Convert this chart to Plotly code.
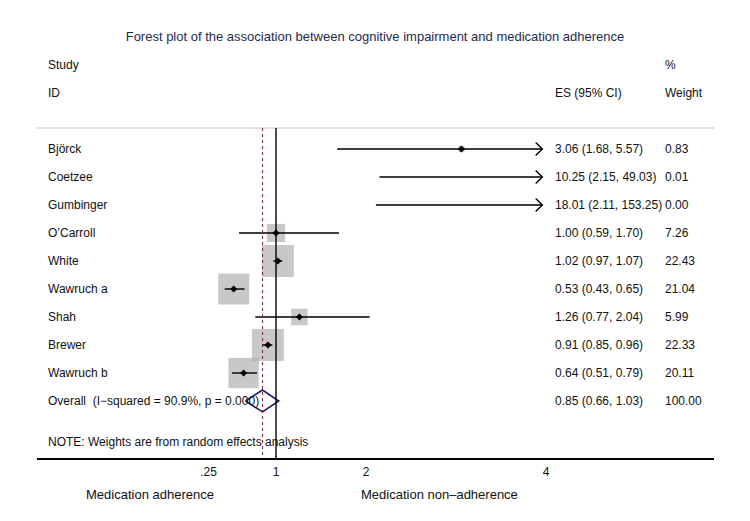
import plotly.graph_objects as go
import math

studies = ["Björck", "Coetzee", "Gumbinger", "O’Carroll", "White", "Wawruch a", "Shah", "Brewer", "Wawruch b"]
es = [3.06, 10.25, 18.01, 1.00, 1.02, 0.53, 1.26, 0.91, 0.64]
lo = [1.68, 2.15, 2.11, 0.59, 0.97, 0.43, 0.77, 0.85, 0.51]
hi = [5.57, 49.03, 153.25, 1.70, 1.07, 0.65, 2.04, 0.96, 0.79]
weight = [0.83, 0.01, 0.00, 7.26, 22.43, 21.04, 5.99, 22.33, 20.11]
overall_es, overall_lo, overall_hi = 0.85, 0.66, 1.03
overall_label = "Overall  (I−squared = 90.9%, p = 0.000)"
tick_vals = [0.25, 1, 2, 4]
tick_text = [".25", "1", "2", "4"]

# page body has an 8px margin, so the figure is drawn 8px smaller
W, H = 742, 513
FONT = "Liberation Sans, Arial, sans-serif"
CLIP = 3.96
XMIN, XMAX = -1.656, 5.867
YTOP, YBOT = -5.036, 11.036
n = len(studies)
rows = list(range(n))
y_over = n

fig = go.Figure()

# weight boxes
maxw = max(weight)
sizes = [32 * math.sqrt(w / maxw) for w in weight]
fig.add_trace(go.Scatter(x=es, y=rows, mode="markers",
                         marker=dict(symbol="square", size=sizes, color="#b0b0b0", line=dict(width=0)),
                         hoverinfo="skip", showlegend=False))

# CI lines and arrows
for i in rows:
    right = min(hi[i], CLIP)
    fig.add_trace(go.Scatter(x=[lo[i], right], y=[i, i], mode="lines",
                             line=dict(color="black", width=1.4), hoverinfo="skip", showlegend=False))
    if hi[i] > CLIP:
        fig.add_trace(go.Scatter(x=[CLIP - 0.075, CLIP, CLIP - 0.075], y=[i - 0.23, i, i + 0.23],
                                 mode="lines", line=dict(color="black", width=1.4),
                                 hoverinfo="skip", showlegend=False))

# point estimates
fig.add_trace(go.Scatter(x=es, y=rows, mode="markers",
                         marker=dict(symbol="diamond", size=5.5, color="black"),
                         hoverinfo="skip", showlegend=False))

# overall diamond
dh = 0.39
fig.add_trace(go.Scatter(x=[overall_lo, overall_es, overall_hi, overall_es, overall_lo],
                         y=[y_over, y_over - dh, y_over, y_over + dh, y_over],
                         mode="lines", line=dict(color="#1c1c6e", width=1.6),
                         hoverinfo="skip", showlegend=False))

shapes = [
    dict(type="line", xref="paper", x0=0, x1=1, yref="y", y0=-0.75, y1=-0.75,
         line=dict(color="#d6d6d6", width=1.6)),
    dict(type="line", xref="x", x0=1, x1=1, yref="y", y0=-0.75, y1=YBOT,
         line=dict(color="black", width=1.4)),
    dict(type="line", xref="x", x0=overall_es, x1=overall_es, yref="y", y0=-0.75, y1=YBOT,
         line=dict(color="#8b2540", width=1.1, dash="3px,3px")),
]

ann = []
def txt(x, y, s, xref="x", anchor="left"):
    ann.append(dict(x=x, y=y, xref=xref, yref="y", text=s, showarrow=False,
                    xanchor=anchor, yanchor="middle", font=dict(family=FONT, size=12, color="#111111")))

XL = -1.556
XES = 4.078
XW = 5.30
txt(XL, -3, "Study")
txt(XL, -2, "ID")
txt(XW, -3, "%")
txt(XES, -2, "ES (95% CI)")
txt(XW, -2, "Weight")
for i in rows:
    txt(XL, i, studies[i])
    txt(XES, i, f"{es[i]:.2f} ({lo[i]:.2f}, {hi[i]:.2f})")
    txt(XW, i, f"{weight[i]:.2f}")
txt(XL, y_over, overall_label)
txt(XES, y_over, f"{overall_es:.2f} ({overall_lo:.2f}, {overall_hi:.2f})")
txt(XW, y_over, "100.00")
txt(XL, 10.45, "NOTE: Weights are from random effects analysis")

for xv, s in [(-0.40, "Medication adherence"), (2.82, "Medication non\u2013adherence")]:
    ann.append(dict(x=xv, y=-0.082, xref="x", yref="paper", text=s, showarrow=False,
                    xanchor="center", yanchor="middle", font=dict(family=FONT, size=13, color="#111111")))

fig.update_layout(
    width=W, height=H,
    margin=dict(l=29, r=36, t=0, b=63),
    paper_bgcolor="white", plot_bgcolor="white",
    title=dict(text="Forest plot of the association between cognitive impairment and medication adherence",
               x=(375 - 8) / W, xanchor="center", y=1 - 28 / H, yanchor="middle",
               font=dict(family=FONT, size=13, color="#1e2b4e")),
    xaxis=dict(range=[XMIN, XMAX], tickvals=tick_vals, ticktext=tick_text, showgrid=False,
               zeroline=False, showline=True, linecolor="black", linewidth=1.5, ticks="",
               ticklabelstandoff=2, tickfont=dict(family=FONT, size=12, color="#111111")),
    yaxis=dict(range=[YBOT, YTOP], visible=False, showgrid=False, zeroline=False),
    shapes=shapes, annotations=ann,
)

fig.write_html("out.html")
